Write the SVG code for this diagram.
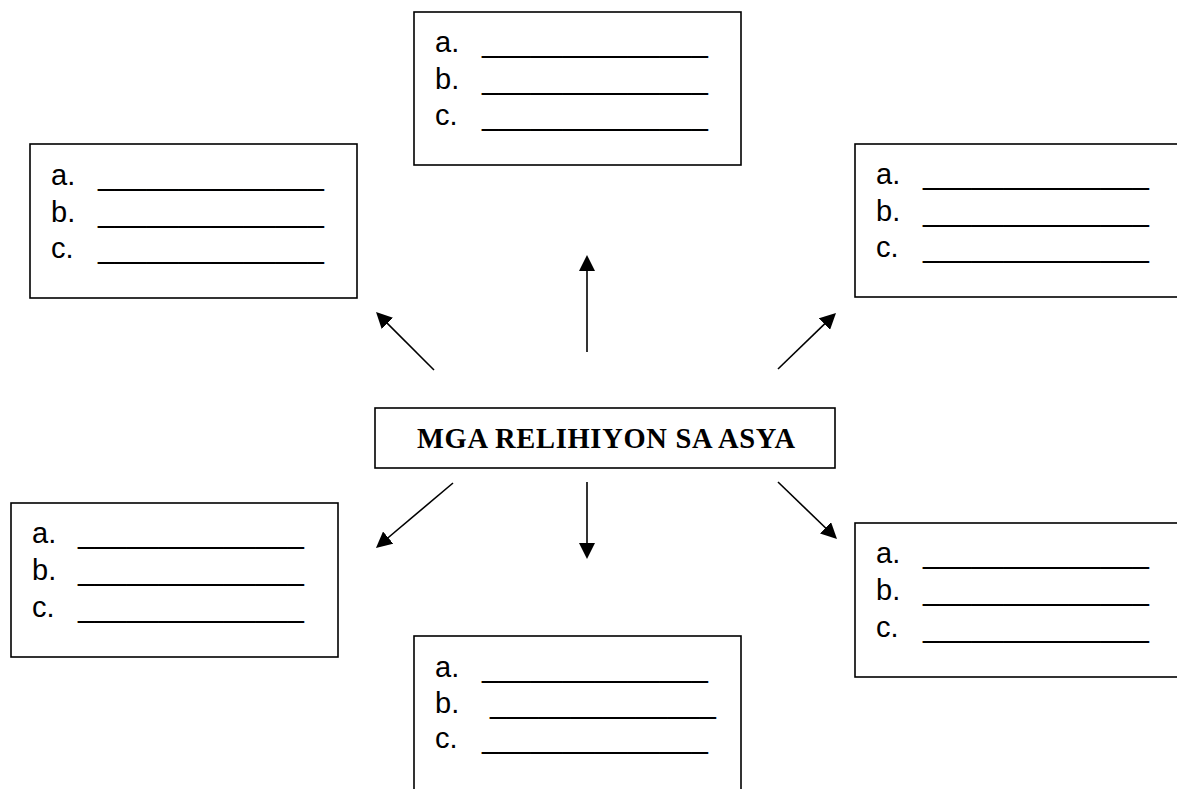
<svg xmlns="http://www.w3.org/2000/svg" width="1177" height="789" viewBox="0 0 1177 789">
<style>
.box{fill:#fff;stroke:#000;stroke-width:1.6}
.t{font-family:"Liberation Sans",Arial,sans-serif;font-size:29px;fill:#000}
.title{font-family:"Liberation Serif","Times New Roman",serif;font-weight:bold;font-size:28.5px;fill:#000}
.arr{stroke:#000;stroke-width:1.6;fill:none;marker-end:url(#ah)}
</style>
<defs>
<marker id="ah" markerUnits="userSpaceOnUse" markerWidth="16" markerHeight="16" refX="6" refY="8" orient="auto">
<path d="M0,0 L16,8 L0,16 Z" fill="#000"/>
</marker>
</defs>
<rect width="1177" height="789" fill="#fff"/>
<g id="top">
<rect class="box" x="414" y="12" width="327" height="153"/>
<text class="t"><tspan x="435" y="52">a.</tspan><tspan x="482" y="52">______________</tspan></text>
<text class="t"><tspan x="435" y="89">b.</tspan><tspan x="482" y="89">______________</tspan></text>
<text class="t"><tspan x="435" y="125">c.</tspan><tspan x="482" y="125">______________</tspan></text>
</g>
<g id="top-left">
<rect class="box" x="30" y="144" width="327" height="154"/>
<text class="t"><tspan x="51" y="185">a.</tspan><tspan x="98" y="185">______________</tspan></text>
<text class="t"><tspan x="51" y="222">b.</tspan><tspan x="98" y="222">______________</tspan></text>
<text class="t"><tspan x="51" y="258">c.</tspan><tspan x="98" y="258">______________</tspan></text>
</g>
<g id="top-right">
<rect class="box" x="855" y="144" width="340" height="153"/>
<text class="t"><tspan x="876" y="184">a.</tspan><tspan x="923" y="184">______________</tspan></text>
<text class="t"><tspan x="876" y="221">b.</tspan><tspan x="923" y="221">______________</tspan></text>
<text class="t"><tspan x="876" y="257">c.</tspan><tspan x="923" y="257">______________</tspan></text>
</g>
<g id="center">
<rect class="box" x="375" y="408" width="460" height="60"/>
<text class="title" x="417" y="448" textLength="378" lengthAdjust="spacing">MGA RELIHIYON SA ASYA</text>
</g>
<g id="bottom-left">
<rect class="box" x="11" y="503" width="327" height="154"/>
<text class="t"><tspan x="32" y="543">a.</tspan><tspan x="78" y="543">______________</tspan></text>
<text class="t"><tspan x="32" y="580">b.</tspan><tspan x="78" y="580">______________</tspan></text>
<text class="t"><tspan x="32" y="617">c.</tspan><tspan x="78" y="617">______________</tspan></text>
</g>
<g id="bottom-right">
<rect class="box" x="855" y="523" width="340" height="154"/>
<text class="t"><tspan x="876" y="563">a.</tspan><tspan x="923" y="563">______________</tspan></text>
<text class="t"><tspan x="876" y="600">b.</tspan><tspan x="923" y="600">______________</tspan></text>
<text class="t"><tspan x="876" y="637">c.</tspan><tspan x="923" y="637">______________</tspan></text>
</g>
<g id="bottom">
<rect class="box" x="414" y="636" width="327" height="170"/>
<text class="t"><tspan x="435" y="677">a.</tspan><tspan x="482" y="677">______________</tspan></text>
<text class="t"><tspan x="435" y="713">b.</tspan><tspan x="490" y="713">______________</tspan></text>
<text class="t"><tspan x="435" y="748">c.</tspan><tspan x="482" y="748">______________</tspan></text>
</g>
<g id="connectors">
<line class="arr" x1="587" y1="352" x2="587" y2="265"/>
<line class="arr" x1="434" y1="370" x2="383.1" y2="319.1"/>
<line class="arr" x1="778" y1="369" x2="828.8" y2="319.9"/>
<line class="arr" x1="453" y1="483" x2="383.6" y2="541.5"/>
<line class="arr" x1="587" y1="482" x2="587" y2="549"/>
<line class="arr" x1="778" y1="482" x2="829.8" y2="532"/>
</g>
</svg>
